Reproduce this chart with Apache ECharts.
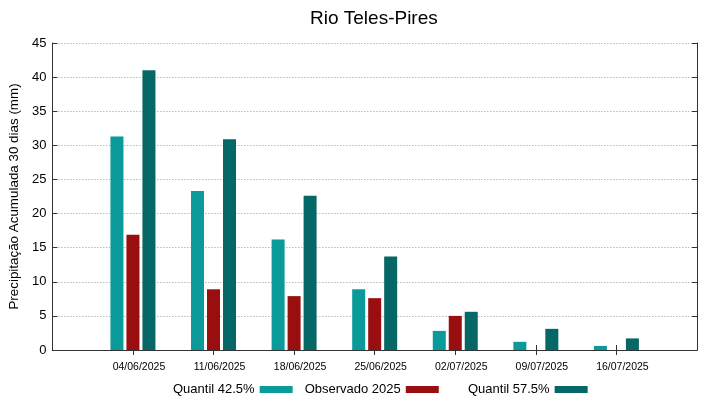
<!DOCTYPE html>
<html>
<head>
<meta charset="utf-8">
<script src="https://cdn.jsdelivr.net/npm/echarts@6/dist/echarts.min.js"></script>
<style>
  html, body { margin: 0; padding: 0; background: #fff; }
  #chart { width: 719px; height: 399px; }
</style>
</head>
<body>
<div id="chart"></div>
<script>
// one empty slot on each side, like the gnuplot x range
const dates = ['', '04/06/2025', '11/06/2025', '18/06/2025', '25/06/2025', '02/07/2025', '09/07/2025', '16/07/2025', '']
const quantil425 = [null, 31.3, 23.3, 16.2, 8.9, 2.8, 1.2, 0.6, null]
const observado = [null, 16.9, 8.9, 7.9, 7.6, 5.0, 0, 0, null]
const quantil575 = [null, 41.0, 30.9, 22.6, 13.7, 5.6, 3.1, 1.7, null]
const yTicks = { min: 0, max: 45, interval: 5 }

const font = 'Liberation Sans'
const axisColor = '#333'

const tickOnDates = (i) => i > 0 && i < dates.length - 1

const legendBase = {
  top: 378,
  align: 'right',
  icon: 'rect',
  itemWidth: 33,
  itemHeight: 7,
  textStyle: { fontFamily: font, fontSize: 13, color: '#000' },
}

const chart = echarts.init(document.getElementById('chart'), null, { renderer: 'canvas' })

chart.setOption({
  animation: false,
  textStyle: { fontFamily: font },
  title: {
    text: 'Rio Teles-Pires',
    left: 305,
    top: 4,
    textStyle: { fontFamily: font, fontSize: 19, fontWeight: 'normal', color: '#000' },
  },
  legend: [
    Object.assign({}, legendBase, { left: 168, itemGap: 12, data: ['Quantil 42.5%', 'Observado 2025'] }),
    Object.assign({}, legendBase, { left: 463, data: ['Quantil 57.5%'] }),
  ],
  grid: { left: 51, right: 22, top: 43, bottom: 49 },
  xAxis: [
    {
      type: 'category',
      data: dates,
      boundaryGap: false,
      axisLine: { lineStyle: { color: axisColor, width: 1 } },
      axisTick: { inside: true, length: 5, interval: tickOnDates, lineStyle: { color: axisColor } },
      // gnuplot draws the dates a little right of the tick
      axisLabel: { interval: 0, fontFamily: font, fontSize: 10.5, color: '#000', margin: 12, padding: [0, 0, 0, 12] },
      splitLine: { show: false },
    },
    {
      type: 'category',
      data: dates,
      position: 'top',
      boundaryGap: false,
      axisLine: { lineStyle: { color: axisColor, width: 1 } },
      axisTick: { inside: true, length: 5, interval: tickOnDates, lineStyle: { color: axisColor } },
      axisLabel: { show: false },
    },
  ],
  yAxis: [
    {
      type: 'value',
      min: yTicks.min,
      max: yTicks.max,
      interval: yTicks.interval,
      name: 'Precipitação Acumulada 30 dias (mm)',
      nameLocation: 'middle',
      nameGap: 28,
      nameTextStyle: { fontFamily: font, fontSize: 13.4, color: '#000' },
      axisLine: { show: true, lineStyle: { color: axisColor, width: 1 } },
      axisTick: { show: true, inside: true, length: 5, lineStyle: { color: axisColor } },
      axisLabel: { fontFamily: font, fontSize: 13, color: '#000', margin: 6 },
      splitLine: { lineStyle: { color: '#999', type: [1, 2], width: 1 } },
    },
    {
      type: 'value',
      min: yTicks.min,
      max: yTicks.max,
      interval: yTicks.interval,
      position: 'right',
      axisLine: { show: true, lineStyle: { color: axisColor, width: 1 } },
      axisTick: { show: true, inside: true, length: 5, lineStyle: { color: axisColor } },
      axisLabel: { show: false },
      splitLine: { show: false },
    },
  ],
  series: [
    {
      name: 'Quantil 42.5%',
      type: 'bar',
      data: quantil425,
      barWidth: 13,
      barGap: '23%',
      itemStyle: { color: '#0a9a9a' },
    },
    {
      name: 'Observado 2025',
      type: 'bar',
      data: observado,
      barWidth: 13,
      barGap: '23%',
      itemStyle: { color: '#990f0f' },
    },
    {
      name: 'Quantil 57.5%',
      type: 'bar',
      data: quantil575,
      barWidth: 13,
      barGap: '23%',
      itemStyle: { color: '#066866' },
    },
  ],
})
</script>
</body>
</html>
